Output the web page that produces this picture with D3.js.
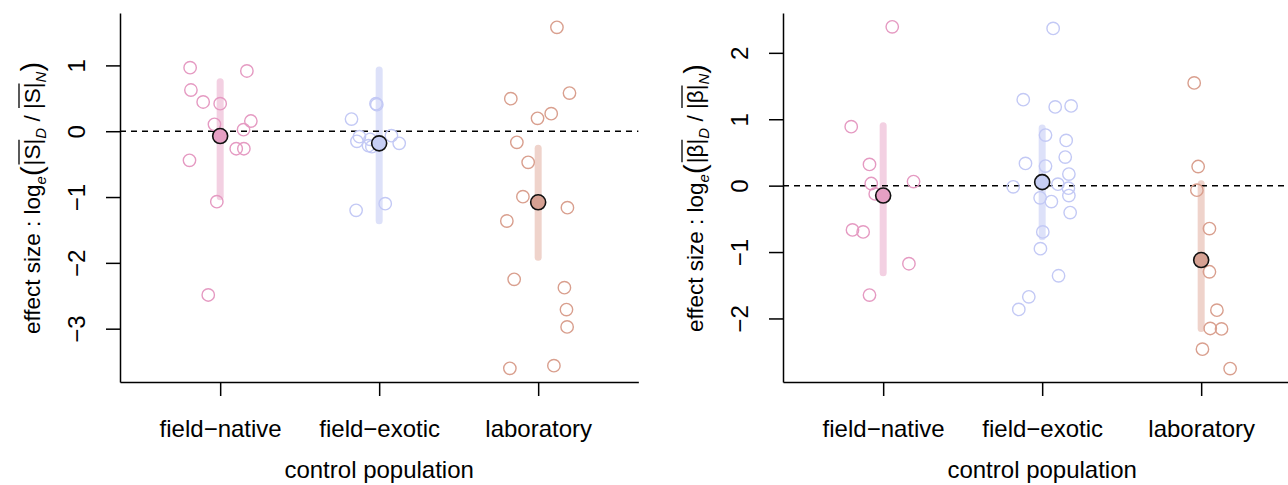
<!DOCTYPE html>
<html>
<head>
<meta charset="utf-8">
<script src="https://cdn.jsdelivr.net/npm/d3@7"></script>
<style>
  body { margin: 0; background: #fff; }
  svg text { font-family: "Liberation Sans", Arial, Helvetica, sans-serif; fill: #000; }
</style>
</head>
<body>
<div id="output"></div>
<script>
var w = 1288;   // svg width
var h = 485;    // svg height

// categories on the x axis
var categories = ['field\u2212native', 'field\u2212exotic', 'laboratory'];

// left panel : |S| effect sizes, one array per control population
var sNativeVals = [0.965, 0.915, 0.626, 0.444, 0.418, 0.105, 0.155, 0.023, -0.266, -0.266, -0.442, -1.071, -2.488];
var sNativeJit  = [-0.189, 0.168, -0.184, -0.107, 0, -0.036, 0.193, 0.147, 0.101, 0.149, -0.193, -0.021, -0.075];
var sExoticVals = [0.418, 0.403, 0.185, -0.083, -0.154, -0.123, -0.220, -0.235, -0.068, -0.184, -1.101, -1.202];
var sExoticJit  = [-0.02, -0.015, -0.174, -0.124, -0.14, -0.057, -0.067, -0.046, 0.077, 0.126, 0.038, -0.145];
var sLabVals = [1.578, 0.494, 0.58, 0.266, 0.196, -0.169, -0.473, -0.995, -1.162, -1.364, -2.25, -2.377, -2.71, -2.974, -3.562, -3.602];
var sLabJit  = [0.118, -0.172, 0.197, 0.082, -0.004, -0.134, -0.063, -0.096, 0.184, -0.197, -0.151, 0.165, 0.178, 0.182, 0.099, -0.178];
var sMean = [-0.073, -0.184, -1.08];
var sLo   = [-0.995, -1.36, -1.916];
var sHi   = [0.752, 0.93, -0.26];
var sTicks = [-3, -2, -1, 0, 1];

// right panel : |beta| effect sizes
var bNativeVals = [2.392, 0.888, 0.319, 0.032, 0.062, -0.124, -0.667, -0.697, -1.176, -1.648];
var bNativeJit  = [0.057, -0.201, -0.086, -0.075, 0.191, -0.05, -0.193, -0.126, 0.162, -0.086];
var bExoticVals = [2.367, 1.295, 1.185, 1.2, 0.762, 0.681, 0.334, 0.294, 0.43, 0.174, -0.018, 0.022, -0.038, -0.149, -0.184, -0.24, -0.406, -0.697, -0.949, -1.357, -1.674, -1.864];
var bExoticJit  = [0.069, -0.119, 0.082, 0.182, 0.021, 0.151, -0.105, 0.021, 0.145, 0.168, -0.182, 0.099, 0.165, 0.168, -0.013, 0.058, 0.176, 0.004, -0.011, 0.103, -0.084, -0.147];
var bLabVals = [1.547, 0.288, -0.068, -0.647, -1.297, -1.875, -2.151, -2.157, -2.463, -2.755];
var bLabJit  = [-0.044, -0.019, -0.027, 0.052, 0.052, 0.099, 0.057, 0.128, 0.008, 0.182];
var bMean = [-0.149, 0.053, -1.12];
var bLo   = [-1.31, -0.768, -2.15];
var bHi   = [0.903, 0.868, 0.027];
var bTicks = [-2, -1, 0, 1, 2];

// colours per category
var ptCol  = ['#e59ac2', '#c3c9f5', '#d99f8e'];
var mnCol  = ['#e6a0c4', '#c6cef4', '#d6a193'];
var barCol = ['#f3d0e2', '#dde1f9', '#efd3cb'];

var svg = d3.select('#output').append('svg')
  .attr('width', w)
  .attr('height', h);

var plotTop = 13, plotBottom = 382;

function fmt(d) { return d < 0 ? '\u2212' + Math.abs(d) : String(d); }

// y axis title built from pieces (overlines and subscripts)
function yTitle(cx, sym) {
  var g = svg.append('g').attr('transform', 'translate(' + cx + ',198) rotate(-90)');
  var pieces = [
    { t: 'effect size : log', fs: 22.5 },
    { t: 'e', fs: 15, it: true, dy: 6 },
    { t: '(', fs: 29, dy: 2, pad: 1 },
    { t: '|' + sym + '|', fs: 22.5, over: true },
    { t: 'D', fs: 15, it: true, dy: 6 },
    { t: '\u00a0/\u00a0', fs: 22.5 },
    { t: '|' + sym + '|', fs: 22.5, over: true },
    { t: 'N', fs: 15, it: true, dy: 6 },
    { t: ')', fs: 29, dy: 2 }
  ];
  var x = 0, items = [];
  pieces.forEach(function(p) {
    var t = g.append('text')
      .attr('font-size', p.fs)
      .attr('font-style', p.it ? 'italic' : 'normal')
      .attr('y', 8 + (p.dy || 0))
      .text(p.t);
    var len = t.node().getComputedTextLength();
    items.push({ sel: t, x: x, len: len, p: p });
    x += len + (p.pad || 0);
  });
  var off = -x / 2;
  items.forEach(function(it) {
    it.sel.attr('x', it.x + off);
    if (it.p.over) {
      g.append('line')
        .attr('x1', it.x + off + 1).attr('x2', it.x + off + it.len - 1)
        .attr('y1', -13).attr('y2', -13)
        .attr('stroke', '#000').attr('stroke-width', 1.3);
    }
  });
}

function drawPanel(left, yDomain, ticks, vals, jits, mean, lo, hi, sym) {
  var x = d3.scaleLinear().domain([0.37, 3.63]).range([left, left + 3.26 * 159]);
  var y = d3.scaleLinear().domain(yDomain).range([plotBottom, plotTop]);
  var g = svg.append('g');

  // CI bars
  g.selectAll('line.ci').data(mean).enter().append('line')
    .attr('x1', function(d, i) { return x(i + 1); })
    .attr('x2', function(d, i) { return x(i + 1); })
    .attr('y1', function(d, i) { return y(hi[i]); })
    .attr('y2', function(d, i) { return y(lo[i]); })
    .attr('stroke', function(d, i) { return barCol[i]; })
    .attr('stroke-width', 7)
    .attr('stroke-linecap', 'round');

  // reference line at zero
  g.append('line')
    .attr('x1', x.range()[0]).attr('x2', x.range()[1])
    .attr('y1', y(0)).attr('y2', y(0))
    .attr('stroke', '#000').attr('stroke-width', 1.5)
    .attr('stroke-dasharray', '6,5');

  // raw points
  vals.forEach(function(arr, k) {
    g.selectAll(null).data(arr).enter().append('circle')
      .attr('cx', function(d, i) { return x(k + 1 + jits[k][i]); })
      .attr('cy', function(d) { return y(d); })
      .attr('r', 6.2)
      .attr('fill', 'none')
      .attr('stroke', ptCol[k])
      .attr('stroke-width', 1.4);
  });

  // means
  g.selectAll('circle.mean').data(mean).enter().append('circle')
    .attr('cx', function(d, i) { return x(i + 1); })
    .attr('cy', function(d) { return y(d); })
    .attr('r', 7.5)
    .attr('fill', function(d, i) { return mnCol[i]; })
    .attr('stroke', '#111')
    .attr('stroke-width', 1.6);

  // y axis
  var ya = g.append('g').attr('transform', 'translate(' + left + ',0)')
    .call(d3.axisLeft(y).tickValues(ticks).tickFormat(fmt).tickSize(14).tickSizeOuter(0));
  ya.attr('font-family', null);
  ya.select('.domain').attr('stroke-width', 1.5);
  ya.selectAll('.tick line').attr('stroke-width', 1.5);
  ya.selectAll('.tick text')
    .attr('font-size', 24)
    .attr('text-anchor', 'middle')
    .attr('x', null).attr('dy', null)
    .attr('transform', 'translate(-35,0) rotate(-90)');

  // x axis
  var xa = g.append('g').attr('transform', 'translate(0,' + plotBottom + ')')
    .call(d3.axisBottom(x).tickValues([1, 2, 3]).tickFormat(function(d) { return categories[d - 1]; })
      .tickSize(14).tickSizeOuter(0));
  xa.attr('font-family', null);
  xa.select('.domain').attr('stroke-width', 1.5);
  xa.selectAll('.tick line').attr('stroke-width', 1.5);
  xa.selectAll('.tick text')
    .attr('font-size', 24)
    .attr('y', 55).attr('dy', null);

  svg.append('text')
    .attr('x', x(2)).attr('y', 478)
    .attr('text-anchor', 'middle')
    .attr('font-size', 24)
    .text('control population');

  yTitle(left - 88, sym);
}

drawPanel(120, [-3.81, 1.796], sTicks,
  [sNativeVals, sExoticVals, sLabVals], [sNativeJit, sExoticJit, sLabJit],
  sMean, sLo, sHi, 'S');

drawPanel(783, [-2.957, 2.60], bTicks,
  [bNativeVals, bExoticVals, bLabVals], [bNativeJit, bExoticJit, bLabJit],
  bMean, bLo, bHi, '\u03b2');
</script>
</body>
</html>
